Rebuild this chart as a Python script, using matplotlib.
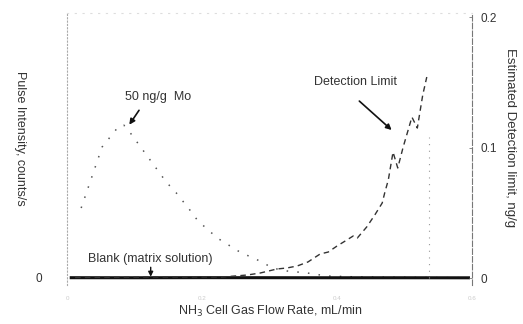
import matplotlib
matplotlib.use('Agg')
import matplotlib.pyplot as plt

plt.rcParams['font.family'] = ['Liberation Sans', 'DejaVu Sans']

# 50 ng/g Mo signal (counts/s) vs NH3 flow (mL/min)
signal_flow = [0.021, 0.052, 0.077, 0.084, 0.095, 0.147, 0.162, 0.182, 0.193, 0.209,
               0.225, 0.256, 0.289, 0.304, 0.326, 0.356, 0.385, 0.434, 0.523, 0.590]
signal_counts = [140000, 262000, 304000, 306000, 288000, 192000, 170000, 136000, 116000, 96000,
                 78000, 52000, 32000, 20000, 14000, 10000, 4000, 2000, 1000, 500]

# blank (matrix solution)
blank_flow = [0.004, 0.10, 0.20, 0.30, 0.40, 0.50, 0.597]
blank_counts = [600, 500, 700, 600, 500, 500, 400]

# estimated detection limit (ng/g)
dl_flow = [0.012, 0.123, 0.231, 0.267, 0.286, 0.311, 0.326, 0.341, 0.357, 0.375,
           0.387, 0.400, 0.412, 0.424, 0.430, 0.444, 0.456, 0.467, 0.471, 0.476,
           0.483, 0.490, 0.498, 0.511, 0.519, 0.527, 0.533]
dl_value = [0.0004, 0.0008, 0.0008, 0.0023, 0.0038, 0.0069, 0.0077, 0.0092, 0.0123, 0.0184,
            0.0199, 0.0245, 0.0283, 0.0322, 0.0306, 0.0391, 0.0483, 0.0575, 0.0659, 0.0751,
            0.0965, 0.0843, 0.1003, 0.1233, 0.1149, 0.1402, 0.1540]

ref_flow = 0.536
ref_top = 0.108

fig = plt.figure(figsize=(5.23, 3.24), dpi=100)
ax = fig.add_axes([67 / 523, 39 / 324, 405 / 523, 272 / 324])
ax2 = ax.twinx()

ax.set_xlim(0, 0.6)
ax.set_ylim(-14000, 530000)
ax2.set_ylim(-0.00536, 0.20307)

ax.plot(signal_flow, signal_counts, linestyle=(0, (1, 6)), color='#555555', linewidth=1.1)
ax.plot(blank_flow, blank_counts, color='#111111', linewidth=2.2, solid_capstyle='butt')
ax2.plot(dl_flow, dl_value, linestyle=(0, (4, 3)), color='#333333', linewidth=1.0)
ax2.vlines(ref_flow, 0.0, ref_top, linestyles=(0, (1, 5)), colors='#999999', linewidth=0.8)

ax.spines['bottom'].set_visible(False)
ax2.spines['bottom'].set_visible(False)
ax.spines['left'].set_color('#aaaaaa')
ax.spines['left'].set_linestyle((0, (1, 2)))
ax.spines['left'].set_linewidth(0.8)
ax.spines['top'].set_color('#dddddd')
ax.spines['top'].set_linestyle((0, (1, 6)))
ax.spines['right'].set_visible(False)
ax2.spines['left'].set_visible(False)
ax2.spines['top'].set_visible(False)
ax2.spines['right'].set_color('#777777')
ax2.spines['right'].set_linestyle((0, (5, 2)))
ax2.spines['right'].set_linewidth(0.8)

ax.set_yticks([0])
ax.set_yticklabels(['0'], fontsize=8.5, color='#333333')
ax.tick_params(axis='y', length=0, pad=18)
ax.set_xticks([0, 0.2, 0.4, 0.6])
ax.set_xticklabels(['0', '0.2', '0.4', '0.6'], fontsize=4.5, color='#cccccc')
ax.tick_params(axis='x', length=0, pad=8)

ax2.set_yticks([0, 0.1, 0.2])
ax2.set_yticklabels(['0', '0.1', '0.2'], fontsize=8.5, color='#333333')
ax2.tick_params(axis='y', length=2, width=0.6, color='#777777', direction='in', pad=6)

fig.text(270 / 523, 1 - 311 / 324, 'NH$_3$ Cell Gas Flow Rate, mL/min',
         ha='center', va='center', fontsize=9, color='#333333')
fig.text(20 / 523, 1 - 138 / 324, 'Pulse Intensity, counts/s', rotation=-90,
         ha='center', va='center', fontsize=9, color='#333333')
fig.text(510 / 523, 1 - 138 / 324, 'Estimated Detection limit, ng/g', rotation=-90,
         ha='center', va='center', fontsize=9.5, color='#333333')

# annotations
ax.text(0.135, 362000, '50 ng/g  Mo', fontsize=9, color='#333333', ha='center', va='center')
ax.annotate('', xy=(0.090, 302000), xytext=(0.109, 340000),
            arrowprops=dict(arrowstyle='-|>', color='#111111', lw=1.2, mutation_scale=8))

ax2.text(0.428, 0.150, 'Detection Limit', fontsize=9, color='#333333', ha='center', va='center')
ax2.annotate('', xy=(0.484, 0.112), xytext=(0.430, 0.137),
             arrowprops=dict(arrowstyle='-|>', color='#111111', lw=1.2, mutation_scale=8))

ax.text(0.124, 38000, 'Blank (matrix solution)', fontsize=9, color='#333333', ha='center', va='center')
ax.annotate('', xy=(0.124, -3000), xytext=(0.124, 27000),
            arrowprops=dict(arrowstyle='-|>', color='#111111', lw=1.0, mutation_scale=7))

plt.savefig('out.png', dpi=100)
